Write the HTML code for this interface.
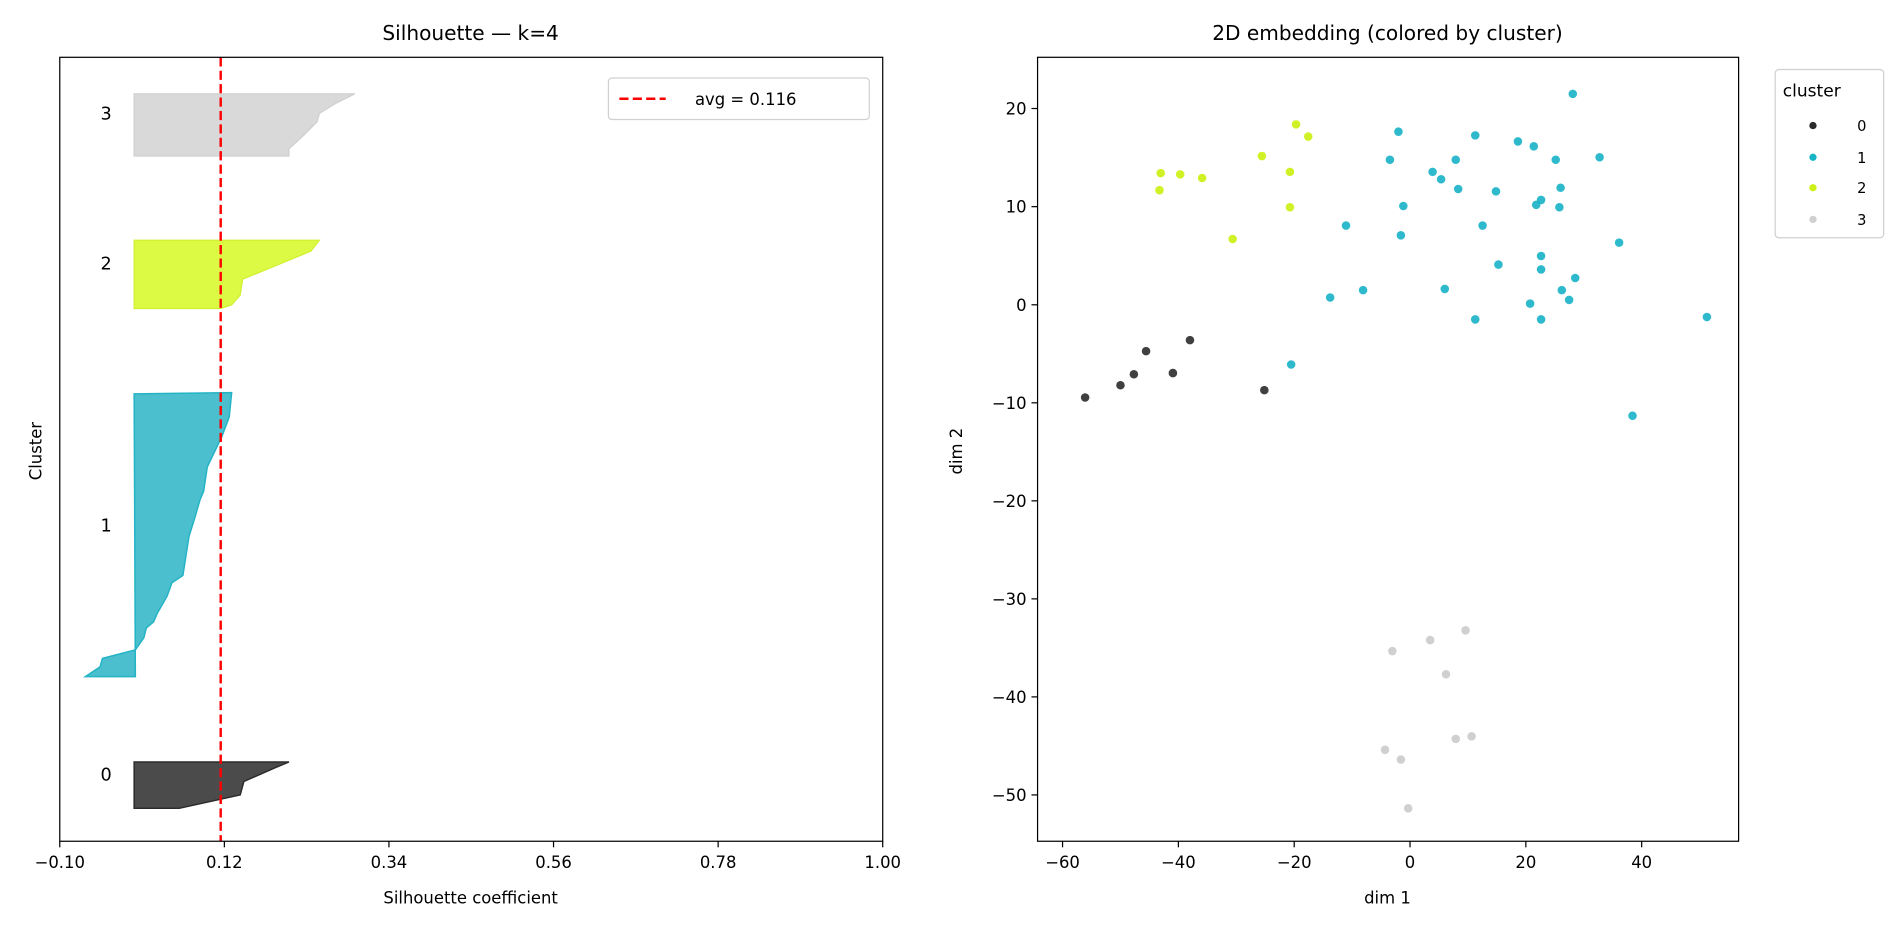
<!DOCTYPE html>
<html><head><meta charset="utf-8"><style>
html,body{margin:0;padding:0;background:#fff;}
svg{display:block;}
text{font-family:"DejaVu Sans","Liberation Sans",sans-serif;fill:#000;}
</style></head><body>
<svg width="1902" height="940" viewBox="0 0 1560 771" xmlns="http://www.w3.org/2000/svg">
<rect width="1560" height="771" fill="#fff"/>
<!-- LEFT -->
<text x="386" y="33" font-size="16.5" text-anchor="middle">Silhouette — k=4</text>
<polygon points="110,77 291,77 275,85 262,93 260,100 248,112 237,122 237,128 110,128" fill="#d9d9d9" stroke="#cfcfcf" stroke-width="1"/>
<polygon points="110,197 262,197 255,206 199,229 197,242 190,250 181,253 110,253" fill="#dcf944" stroke="#d0f030" stroke-width="1"/>
<polygon points="110,323 190,322 188,342 182,358 170,383 167,403 164,410 160,424 155,440 150,472 141,478 137,489 129,503 126,510 120,515 118,523 111,533 84,540 82,547 70,555 111,555" fill="#4bbfcd" stroke="#22b3c5" stroke-width="1.2"/>
<polygon points="110,625 237,625 225,630 200,641 197,652 147,663 110,663" fill="#4b4b4b" stroke="#2b2b2b" stroke-width="1.2"/>
<line x1="181" y1="47" x2="181" y2="690" stroke="#ff0000" stroke-width="2" stroke-dasharray="7.5,3.5"/>
<rect x="49" y="47" width="675" height="643" fill="none" stroke="#000" stroke-width="1"/>
<text x="87" y="98" font-size="14.5" text-anchor="middle">3</text>
<text x="87" y="221" font-size="14.5" text-anchor="middle">2</text>
<text x="87" y="436" font-size="14.5" text-anchor="middle">1</text>
<text x="87" y="640" font-size="14.5" text-anchor="middle">0</text>
<g stroke="#000" stroke-width="1">
<line x1="49" y1="690" x2="49" y2="695"/><line x1="184" y1="690" x2="184" y2="695"/><line x1="319" y1="690" x2="319" y2="695"/><line x1="454" y1="690" x2="454" y2="695"/><line x1="589" y1="690" x2="589" y2="695"/><line x1="724" y1="690" x2="724" y2="695"/>
</g>
<g font-size="13.5" text-anchor="middle">
<text x="49" y="712">−0.10</text><text x="184" y="712">0.12</text><text x="319" y="712">0.34</text><text x="454" y="712">0.56</text><text x="589" y="712">0.78</text><text x="724" y="712">1.00</text>
</g>
<text x="386" y="741" font-size="13.5" text-anchor="middle">Silhouette coefficient</text>
<text transform="translate(34,370) rotate(-90)" font-size="13.5" text-anchor="middle">Cluster</text>
<rect x="499" y="64" width="214" height="34" rx="3" fill="#fff" stroke="#d0d0d0" stroke-width="1"/>
<line x1="508" y1="81" x2="546" y2="81" stroke="#ff0000" stroke-width="2" stroke-dasharray="7.5,3.5"/>
<text x="570" y="86" font-size="13.5">avg = 0.116</text>
<!-- RIGHT -->
<text x="1138" y="33" font-size="16.5" text-anchor="middle">2D embedding (colored by cluster)</text>
<g fill="#2b2b2b" fill-opacity="0.9">
<circle cx="890" cy="326" r="3.5"/><circle cx="919" cy="316" r="3.5"/><circle cx="930" cy="307" r="3.5"/><circle cx="940" cy="288" r="3.5"/><circle cx="962" cy="306" r="3.5"/><circle cx="976" cy="279" r="3.5"/><circle cx="1037" cy="320" r="3.5"/>
</g>
<g fill="#17b3c6" fill-opacity="0.9">
<circle cx="1290" cy="77" r="3.5"/><circle cx="1147" cy="108" r="3.5"/><circle cx="1210" cy="111" r="3.5"/><circle cx="1245" cy="116" r="3.5"/><circle cx="1258" cy="120" r="3.5"/><circle cx="1140" cy="131" r="3.5"/><circle cx="1194" cy="131" r="3.5"/><circle cx="1312" cy="129" r="3.5"/><circle cx="1276" cy="131" r="3.5"/><circle cx="1175" cy="141" r="3.5"/><circle cx="1182" cy="147" r="3.5"/><circle cx="1227" cy="157" r="3.5"/><circle cx="1196" cy="155" r="3.5"/><circle cx="1280" cy="154" r="3.5"/><circle cx="1260" cy="168" r="3.5"/><circle cx="1264" cy="164" r="3.5"/><circle cx="1279" cy="170" r="3.5"/><circle cx="1151" cy="169" r="3.5"/><circle cx="1104" cy="185" r="3.5"/><circle cx="1216" cy="185" r="3.5"/><circle cx="1149" cy="193" r="3.5"/><circle cx="1229" cy="217" r="3.5"/><circle cx="1264" cy="210" r="3.5"/><circle cx="1292" cy="228" r="3.5"/><circle cx="1328" cy="199" r="3.5"/><circle cx="1264" cy="221" r="3.5"/><circle cx="1281" cy="238" r="3.5"/><circle cx="1091" cy="244" r="3.5"/><circle cx="1118" cy="238" r="3.5"/><circle cx="1185" cy="237" r="3.5"/><circle cx="1255" cy="249" r="3.5"/><circle cx="1287" cy="246" r="3.5"/><circle cx="1210" cy="262" r="3.5"/><circle cx="1264" cy="262" r="3.5"/><circle cx="1400" cy="260" r="3.5"/><circle cx="1059" cy="299" r="3.5"/><circle cx="1339" cy="341" r="3.5"/>
</g>
<g fill="#cdf01a" fill-opacity="0.95">
<circle cx="1063" cy="102" r="3.5"/><circle cx="1073" cy="112" r="3.5"/><circle cx="952" cy="142" r="3.5"/><circle cx="968" cy="143" r="3.5"/><circle cx="1035" cy="128" r="3.5"/><circle cx="1058" cy="141" r="3.5"/><circle cx="951" cy="156" r="3.5"/><circle cx="986" cy="146" r="3.5"/><circle cx="1058" cy="170" r="3.5"/><circle cx="1011" cy="196" r="3.5"/>
</g>
<g fill="#d0d0d0">
<circle cx="1202" cy="517" r="3.5"/><circle cx="1142" cy="534" r="3.5"/><circle cx="1173" cy="525" r="3.5"/><circle cx="1186" cy="553" r="3.5"/><circle cx="1136" cy="615" r="3.5"/><circle cx="1194" cy="606" r="3.5"/><circle cx="1207" cy="604" r="3.5"/><circle cx="1149" cy="623" r="3.5"/><circle cx="1155" cy="663" r="3.5"/>
</g>
<rect x="851" y="47" width="575" height="643" fill="none" stroke="#000" stroke-width="1"/>
<g stroke="#000" stroke-width="1">
<line x1="871.5" y1="690" x2="871.5" y2="695"/><line x1="966.5" y1="690" x2="966.5" y2="695"/><line x1="1061.5" y1="690" x2="1061.5" y2="695"/><line x1="1156.5" y1="690" x2="1156.5" y2="695"/><line x1="1251.5" y1="690" x2="1251.5" y2="695"/><line x1="1346.5" y1="690" x2="1346.5" y2="695"/>
<line x1="846" y1="89" x2="851" y2="89"/><line x1="846" y1="169.5" x2="851" y2="169.5"/><line x1="846" y1="250" x2="851" y2="250"/><line x1="846" y1="330.4" x2="851" y2="330.4"/><line x1="846" y1="410.8" x2="851" y2="410.8"/><line x1="846" y1="491.2" x2="851" y2="491.2"/><line x1="846" y1="571.6" x2="851" y2="571.6"/><line x1="846" y1="652" x2="851" y2="652"/>
</g>
<g font-size="13.5" text-anchor="middle">
<text x="871.5" y="712">−60</text><text x="966.5" y="712">−40</text><text x="1061.5" y="712">−20</text><text x="1156.5" y="712">0</text><text x="1251.5" y="712">20</text><text x="1346.5" y="712">40</text>
</g>
<g font-size="13.5" text-anchor="end">
<text x="842" y="94">20</text><text x="842" y="174.5">10</text><text x="842" y="255">0</text><text x="842" y="335.4">−10</text><text x="842" y="415.8">−20</text><text x="842" y="496.2">−30</text><text x="842" y="576.6">−40</text><text x="842" y="657">−50</text>
</g>
<text x="1138" y="741" font-size="13.5" text-anchor="middle">dim 1</text>
<text transform="translate(789,370) rotate(-90)" font-size="13.5" text-anchor="middle">dim 2</text>
<rect x="1456" y="57" width="89" height="138" rx="3" fill="#fff" stroke="#d0d0d0" stroke-width="1"/>
<text x="1486" y="79" font-size="14" text-anchor="middle">cluster</text>
<circle cx="1487" cy="103" r="3" fill="#2b2b2b"/><text x="1527" y="107.5" font-size="12" text-anchor="middle">0</text>
<circle cx="1487" cy="129" r="3" fill="#17b3c6"/><text x="1527" y="133.5" font-size="12" text-anchor="middle">1</text>
<circle cx="1487" cy="154" r="3" fill="#cdf01a"/><text x="1527" y="158.5" font-size="12" text-anchor="middle">2</text>
<circle cx="1487" cy="180" r="3" fill="#d0d0d0"/><text x="1527" y="184.5" font-size="12" text-anchor="middle">3</text>
</svg>
</body></html>
